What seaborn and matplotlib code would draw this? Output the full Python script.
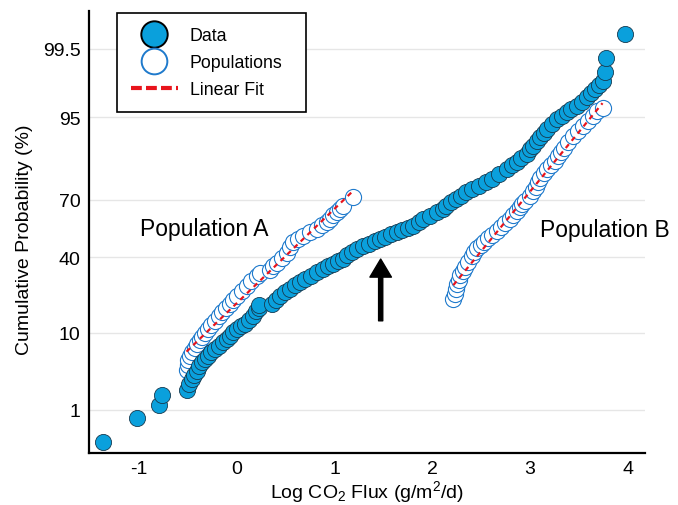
import numpy as np
import pandas as pd
import matplotlib
matplotlib.use("Agg")
import matplotlib.pyplot as plt
import seaborn as sns
from matplotlib.lines import Line2D
from statistics import NormalDist

# ---------------- data (log CO2 flux, cumulative probability %) ----------------
data_x = [-1.370, -1.022, -0.791, -0.761, -0.513, -0.488, -0.460, -0.437, -0.409, -0.385,
          -0.358, -0.324, -0.290, -0.258, -0.222, -0.181, -0.137, -0.102, -0.069, -0.035,
          0.000, 0.044, 0.085, 0.126, 0.170, 0.202, 0.223, 0.233, 0.361, 0.402,
          0.443, 0.494, 0.545, 0.596, 0.647, 0.703, 0.760, 0.821, 0.885, 0.934,
          0.988, 1.036, 1.090, 1.128, 1.179, 1.230, 1.294, 1.353, 1.414, 1.465,
          1.516, 1.578, 1.636, 1.690, 1.752, 1.806, 1.859, 1.908, 1.976, 2.045,
          2.109, 2.140, 2.190, 2.240, 2.290, 2.340, 2.410, 2.480, 2.550, 2.610,
          2.680, 2.760, 2.810, 2.870, 2.910, 2.965, 2.999, 3.033, 3.071, 3.101,
          3.137, 3.170, 3.219, 3.272, 3.321, 3.374, 3.423, 3.476, 3.526, 3.579,
          3.623, 3.664, 3.704, 3.748, 3.766, 3.776, 3.970]
data_p = [0.29, 0.75, 1.20, 1.70, 2.01, 2.43, 2.84, 3.22, 3.65, 4.13,
          4.67, 5.13, 5.60, 6.15, 6.69, 7.32, 7.96, 8.67, 9.39, 10.19,
          11.01, 11.64, 12.34, 13.46, 14.78, 16.30, 17.33, 18.36, 18.74, 20.05,
          21.80, 23.23, 24.69, 26.44, 27.64, 28.94, 30.57, 32.27, 33.98, 35.23,
          36.50, 37.78, 39.07, 41.17, 42.76, 44.10, 45.70, 47.05, 48.40, 49.75,
          50.83, 52.19, 53.38, 54.61, 55.68, 56.91, 58.61, 60.44, 62.16, 63.89,
          65.57, 67.19, 68.85, 70.40, 71.79, 73.46, 74.91, 76.32, 77.70, 79.03,
          80.73, 82.70, 83.91, 84.93, 86.27, 87.40, 88.64, 89.58, 90.59, 91.50,
          92.37, 93.13, 93.97, 94.75, 95.23, 95.65, 96.04, 96.42, 96.84, 97.23,
          97.57, 97.87, 98.13, 98.38, 98.81, 99.27, 99.72]

popA_x = [-0.513, -0.503, -0.493, -0.478, -0.457, -0.431, -0.406, -0.380, -0.355, -0.324,
          -0.290, -0.258, -0.222, -0.186, -0.153, -0.109, -0.069, -0.033, 0.000, 0.049,
          0.102, 0.151, 0.204, 0.238, 0.340, 0.376, 0.409, 0.458, 0.511, 0.545,
          0.579, 0.627, 0.681, 0.749, 0.818, 0.867, 0.920, 0.954, 0.988, 1.022,
          1.056, 1.090, 1.192]
popA_p = [3.67, 4.32, 4.92, 5.55, 6.21, 6.89, 7.65, 8.34, 9.10, 10.01,
          11.01, 12.06, 13.26, 14.54, 15.85, 17.33, 18.74, 20.24, 21.92, 23.84,
          26.14, 28.24, 30.57, 32.02, 33.49, 35.23, 37.01, 39.60, 42.22, 45.16,
          47.97, 49.75, 51.54, 53.38, 55.14, 57.02, 58.87, 60.44, 62.26, 63.89,
          65.57, 67.19, 71.19]

popB_x = [2.215, 2.227, 2.237, 2.253, 2.268, 2.288, 2.309, 2.334, 2.365, 2.401,
          2.426, 2.457, 2.493, 2.529, 2.570, 2.610, 2.658, 2.702, 2.748, 2.794,
          2.830, 2.866, 2.897, 2.922, 2.948, 2.999, 3.030, 3.060, 3.084, 3.106,
          3.137, 3.173, 3.214, 3.255, 3.288, 3.316, 3.347, 3.391, 3.442, 3.493,
          3.544, 3.595, 3.646, 3.681, 3.740]
popB_p = [20.62, 22.62, 24.69, 26.66, 28.71, 30.80, 32.98, 34.98, 37.52, 40.38,
          42.49, 44.63, 46.24, 48.13, 50.02, 51.91, 54.07, 55.95, 58.08, 60.44,
          62.52, 64.56, 66.42, 68.02, 69.61, 71.93, 73.81, 75.78, 77.70, 79.22,
          81.11, 82.70, 84.08, 85.49, 86.84, 87.96, 89.01, 90.41, 91.78, 92.81,
          93.69, 94.51, 95.20, 95.81, 96.17]

ytick_pct = [1, 10, 40, 70, 95, 99.5]
ytick_labels = ["1", "10", "40", "70", "95", "99.5"]
xtick_vals = [-1, 0, 1, 2, 3, 4]

# ---------------- helpers ----------------
_nd = NormalDist()


def probit(p):
    return np.array([_nd.inv_cdf(v / 100.0) for v in np.atleast_1d(p)])


DATA_FILL = "#0aa0dc"
DATA_EDGE = "#163a50"
POP_EDGE = "#1f7acc"
RED = "#e8141c"

sns.set_style("white")
plt.rcParams["font.family"] = ["Liberation Sans", "DejaVu Sans"]
plt.rcParams["mathtext.fontset"] = "custom"
plt.rcParams["mathtext.rm"] = "Liberation Sans"
plt.rcParams["mathtext.it"] = "Liberation Sans:italic"
plt.rcParams["mathtext.bf"] = "Liberation Sans:bold"
for key in ("text.color", "axes.labelcolor", "xtick.color", "ytick.color"):
    plt.rcParams[key] = "black"

fig = plt.figure(figsize=(6.78, 5.06), dpi=100)
ax = fig.add_axes([0.1313, 0.1028, 0.8201, 0.8741])

df_data = pd.DataFrame({"x": data_x, "z": probit(data_p)})
df_a = pd.DataFrame({"x": popA_x, "z": probit(popA_p)})
df_b = pd.DataFrame({"x": popB_x, "z": probit(popB_p)})

MS = 135
for df in (df_a, df_b):
    sns.scatterplot(data=df, x="x", y="z", ax=ax, s=MS, color="white",
                    edgecolor=POP_EDGE, linewidth=0.8, zorder=2, legend=False)

sns.scatterplot(data=df_data, x="x", y="z", ax=ax, s=MS, color=DATA_FILL,
                edgecolor=DATA_EDGE, linewidth=0.6, zorder=3, legend=False)

# linear fits of each population on the probability scale
for df in (df_a, df_b):
    slope, icpt = np.polyfit(df["x"], df["z"], 1)
    xs = np.array([df["x"].min(), df["x"].max()])
    ax.plot(xs, icpt + slope * xs, color=RED, lw=1.6, ls=(0, (2.2, 2.0)), zorder=5)

# axes styling
ax.set_xlim(-1.51, 4.175)
ax.set_ylim(-2.91, 3.09)
ax.set_xticks(xtick_vals)
ax.set_xticklabels([str(v) for v in xtick_vals])
ax.set_yticks(probit(ytick_pct))
ax.set_yticklabels(ytick_labels)
ax.tick_params(axis="both", direction="in", length=5, width=1.5, labelsize=14,
               colors="black")
ax.tick_params(axis="y", pad=6)
ax.tick_params(axis="x", pad=5)
ax.yaxis.grid(True, color="#e6e6e6", linewidth=1.0)
ax.xaxis.grid(False)
ax.set_axisbelow(True)
sns.despine(ax=ax)
for side in ("left", "bottom"):
    ax.spines[side].set_linewidth(1.6)
    ax.spines[side].set_color("black")

ax.set_ylabel("Cumulative Probability (%)", fontsize=14)
ax.yaxis.set_label_coords(-0.100, 0.485)
ax.set_xlabel("Log CO$_2$ Flux (g/m$^2$/d)", fontsize=14, labelpad=1)

# annotations
ax.text(-0.989, probit(51.9)[0], "Population A", fontsize=16.5, va="baseline",
        ha="left", color="black")
ax.text(3.101, probit(51.5)[0], "Population B", fontsize=16.5, va="baseline",
        ha="left", color="black")
ax.annotate("", xy=(1.472, probit(39.0)[0]), xytext=(1.472, probit(13.2)[0]),
            arrowprops=dict(facecolor="black", edgecolor="black", width=3.0,
                            headwidth=15.5, headlength=13, shrink=0.0))

# legend
handles = [
    Line2D([], [], marker="o", ls="", markersize=19, markerfacecolor=DATA_FILL,
           markeredgecolor="black", markeredgewidth=1.4),
    Line2D([], [], marker="o", ls="", markersize=18.5, markerfacecolor="white",
           markeredgecolor=POP_EDGE, markeredgewidth=1.4),
    Line2D([], [], color=RED, lw=3.0, ls=(0, (2.6, 1.0))),
]
leg = ax.legend(handles, ["Data", "Populations", "Linear Fit"], loc="upper left",
                bbox_to_anchor=(0.0498, 0.9948, 0.34, 0.0), mode="expand",
                borderaxespad=0.0, fontsize=12.75,
                frameon=True, fancybox=False, framealpha=1.0, edgecolor="black",
                handlelength=2.64, handletextpad=0.68, borderpad=0.8,
                labelspacing=0.56)
leg.get_frame().set_linewidth(1.2)

fig.savefig("out.png", dpi=100)
